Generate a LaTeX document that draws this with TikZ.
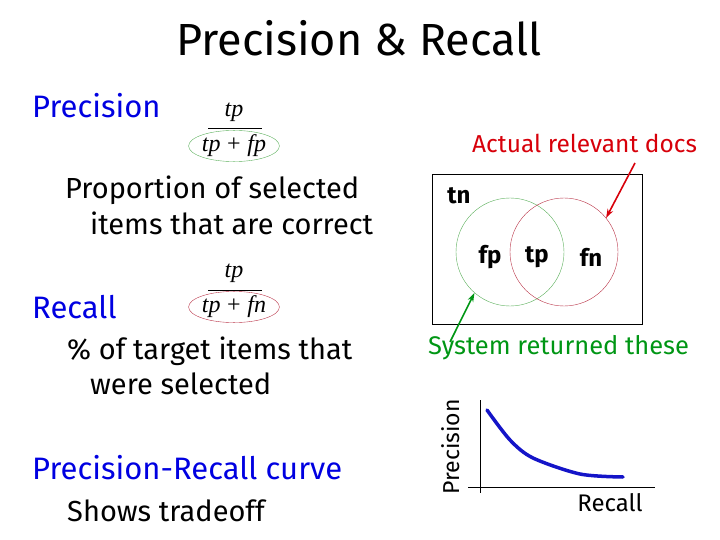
\documentclass[tikz,border=0pt]{standalone}
\usepackage{fontspec}
\setmainfont{Fira Sans}
\newfontfamily\fracfont{Liberation Serif}
\usetikzlibrary{arrows.meta, shapes.geometric}

\definecolor{headblue}{RGB}{0,0,225}
\definecolor{docred}{RGB}{215,0,10}
\definecolor{sysgreen}{RGB}{0,150,20}
\definecolor{ringgreen}{RGB}{90,175,90}
\definecolor{ringred}{RGB}{185,50,70}
\definecolor{curveblue}{RGB}{20,20,200}

\begin{document}
\begin{tikzpicture}[x=1pt, y=-1pt,
    every node/.style={inner sep=0pt},
    heading/.style={anchor=west, text=headblue, font=\fontsize{31}{34}\selectfont},
    body/.style={anchor=west, font=\fontsize{29}{32}\selectfont},
    frac/.style={font=\fracfont\itshape\fontsize{24}{26}\selectfont},
    ring/.style={ellipse, inner sep=0pt, minimum width=84pt, minimum height=27pt},
    region/.style={font=\bfseries\fontsize{24}{26}\selectfont},
    venn/.style={circle, minimum size=108pt},
    pointer/.style={-{Stealth[length=9pt, width=6pt]}, line width=1.6pt},
    axis/.style={line width=0.6pt}
]
\useasboundingbox (0,0) rectangle (720,540);

% Title
\node (title) at (359,38) {\fontsize{45}{48}\selectfont Precision \& Recall};

% Precision
\node[heading] (prechead) at (32,106) {Precision};
\node[frac] (precnum) at (234,112) {tp};
\draw (208,128) -- (262,128);
\node[frac, ring, draw=ringgreen] (precden) at (234,146) {tp\;{\upshape+}\;fp};
\node[body] (precline1) at (65,190) {Proportion of selected};
\node[body] (precline2) at (90,223) {items that are correct};

% Recall
\node[heading] (rechead) at (32,307) {Recall};
\node[frac] (recnum) at (234,273) {tp};
\draw (208,290) -- (262,290);
\node[frac, ring, draw=ringred] (recden) at (234,307) {tp\;{\upshape+}\;fn};
\node[body] (recline1) at (67,351) {\% of target items that};
\node[body] (recline2) at (90,384) {were selected};

% Precision-Recall curve
\node[heading] (curvehead) at (32,468) {Precision-Recall curve};
\node[body] (curveline) at (67,511) {Shows tradeoff};

% Venn diagram of the collection
\draw[axis] (432,174) rectangle (642,324);
\node[venn, draw=ringgreen] (sysset) at (510,252) {};
\node[venn, draw=ringred] (relset) at (564,252) {};
\node[region] (tn) at (459,196) {tn};
\node[region] (fp) at (490,257) {fp};
\node[region] (tp) at (537,257) {tp};
\node[region] (fn) at (591,257) {fn};

\node[anchor=west, text=docred, font=\fontsize{24.5}{26}\selectfont] (relabel) at (472,143) {Actual relevant docs};
\node[anchor=west, text=sysgreen, font=\fontsize{25.5}{27}\selectfont] (syslabel) at (428,348) {System returned these};
\coordinate (redtail) at (635,163);
\coordinate (greentail) at (450,342);
\draw[pointer, docred] (redtail) -- (relset.39);
\draw[pointer, sysgreen] (greentail) -- (sysset.229);

% Small precision-recall plot
\draw[axis] (480,400) -- (480,493);
\draw[axis] (468,487) -- (655,487);
\draw[curveblue, line width=3.5pt, line cap=round]
    plot[smooth] coordinates {(487,410) (510,440) (533,458) (580,474) (623,477)};
\node[rotate=90, font=\fontsize{23}{25}\selectfont] (ylabel) at (451,447) {Precision};
\node[font=\fontsize{24}{26}\selectfont] (xlabel) at (610,503) {Recall};

\end{tikzpicture}
\end{document}
